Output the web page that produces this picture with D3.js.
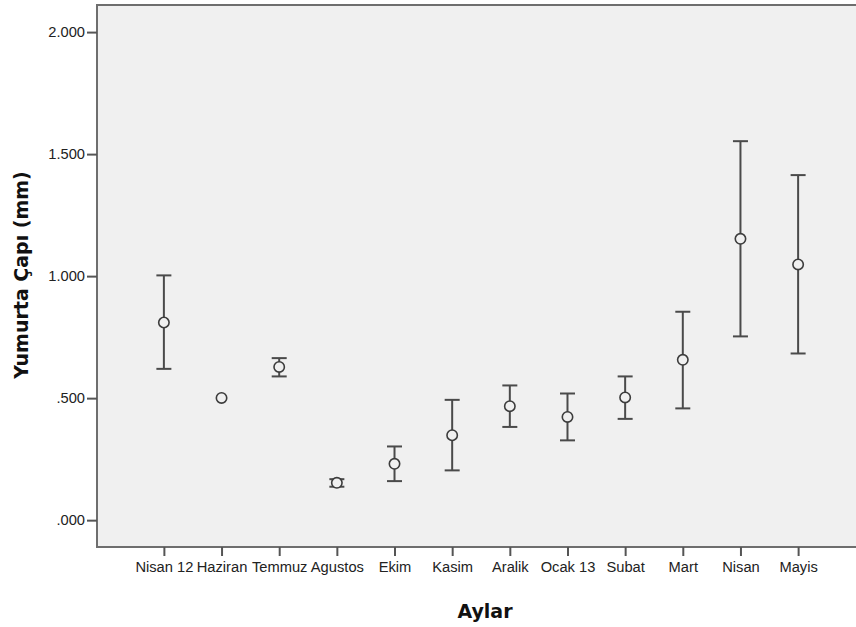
<!DOCTYPE html>
<html>
<head>
<meta charset="utf-8">
<script src="https://cdn.jsdelivr.net/npm/d3@7"></script>
<style>
  html, body { margin: 0; padding: 0; background: #ffffff; }
  svg { display: block; }
</style>
</head>
<body>
<div id="chart"></div>
<script>
// Monthly egg diameter: mean with error-bar bounds (mm)
const months = ["Nisan 12", "Haziran", "Temmuz", "Agustos", "Ekim", "Kasim",
                "Aralik", "Ocak 13", "Subat", "Mart", "Nisan", "Mayis"];
const means  = [0.810, 0.501, 0.628, 0.153, 0.231, 0.348, 0.467, 0.423, 0.503, 0.657, 1.153, 1.048];
const lowers = [0.620, null,  0.589, 0.137, 0.160, 0.204, 0.382, 0.327, 0.415, 0.458, 0.753, 0.683];
const uppers = [1.003, null,  0.664, 0.168, 0.302, 0.493, 0.552, 0.519, 0.589, 0.854, 1.553, 1.414];
const yTickValues = [0, 0.5, 1.0, 1.5, 2.0];
const yTickLabels = [".000", ".500", "1.000", "1.500", "2.000"];

const W = 856, H = 627;
const plot = { left: 97, right: 865, top: 5, bottom: 547 };

const svg = d3.select("#chart").append("svg")
  .attr("width", W).attr("height", H);

const x = d3.scalePoint().domain(months)
  .range([plot.left, plot.right]).padding(1.16);
const y = d3.scaleLinear().domain([-0.11, 2.111])
  .range([plot.bottom, plot.top]);

// plot background and frame
svg.append("rect")
  .attr("x", plot.left).attr("y", plot.top)
  .attr("width", plot.right - plot.left).attr("height", plot.bottom - plot.top)
  .attr("fill", "#f0f0f0").attr("stroke", "#6e6e6e").attr("stroke-width", 2);

// axes
const yAxis = d3.axisLeft(y).tickValues(yTickValues)
  .tickFormat((d, i) => yTickLabels[i]).tickSize(10).tickPadding(2);
const gy = svg.append("g").attr("transform", `translate(${plot.left},0)`).call(yAxis);

const xAxis = d3.axisBottom(x).tickSize(9).tickPadding(6);
const gx = svg.append("g").attr("transform", `translate(0,${plot.bottom})`).call(xAxis);

[gy, gx].forEach(g => {
  g.select(".domain").remove();
  g.selectAll(".tick line").attr("stroke", "#555").attr("stroke-width", 2);
  g.selectAll(".tick text")
    .attr("fill", "#222")
    .style("font-family", "'Liberation Sans', Arial, sans-serif")
    .style("font-size", "14.7px");
});

// error bars
const data = months.map((m, i) => ({ m, mean: means[i], lo: lowers[i], hi: uppers[i] }));
const bars = svg.append("g").selectAll("g")
  .data(data.filter(d => d.lo !== null && d.hi !== null))
  .join("g")
  .attr("stroke", "#4a4a4a").attr("stroke-width", 2).attr("fill", "none");

const capHalf = 7.5;
bars.append("line")
  .attr("x1", d => x(d.m)).attr("x2", d => x(d.m))
  .attr("y1", d => y(d.hi)).attr("y2", d => y(d.lo));
bars.append("line")
  .attr("x1", d => x(d.m) - capHalf).attr("x2", d => x(d.m) + capHalf)
  .attr("y1", d => y(d.hi)).attr("y2", d => y(d.hi));
bars.append("line")
  .attr("x1", d => x(d.m) - capHalf).attr("x2", d => x(d.m) + capHalf)
  .attr("y1", d => y(d.lo)).attr("y2", d => y(d.lo));

// mean markers
svg.append("g").selectAll("circle")
  .data(data).join("circle")
  .attr("cx", d => x(d.m)).attr("cy", d => y(d.mean))
  .attr("r", 5.2)
  .attr("fill", "#f0f0f0").attr("stroke", "#3c3c3c").attr("stroke-width", 1.6);

// axis titles
svg.append("text")
  .attr("x", 485).attr("y", 618)
  .attr("text-anchor", "middle")
  .attr("fill", "#111")
  .style("font-family", "'DejaVu Sans', sans-serif")
  .style("font-weight", "bold").style("font-size", "19px")
  .text("Aylar");

svg.append("text")
  .attr("transform", "translate(28,275) rotate(-90)")
  .attr("text-anchor", "middle")
  .attr("fill", "#111")
  .style("font-family", "'DejaVu Sans', sans-serif")
  .style("font-weight", "bold").style("font-size", "19px")
  .text("Yumurta Çapı (mm)");
</script>
</body>
</html>
